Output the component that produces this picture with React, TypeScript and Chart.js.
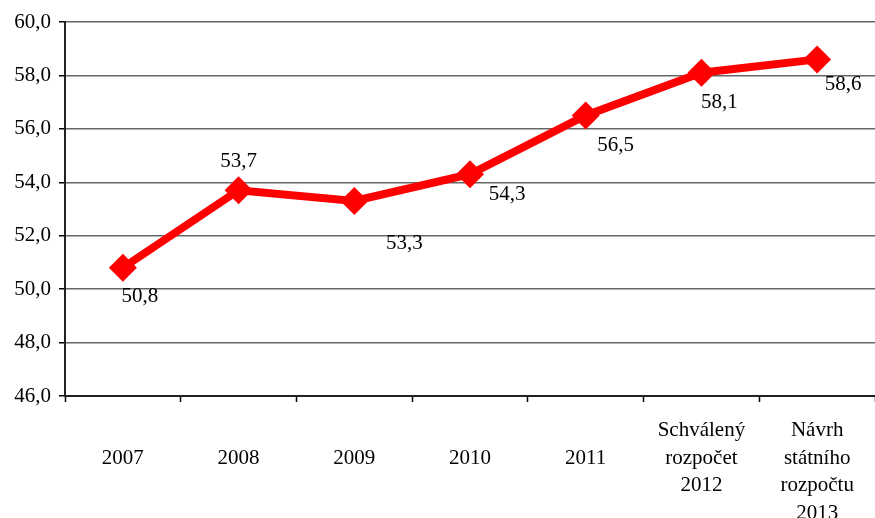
import React, { useEffect, useRef } from "react";
import { Chart, registerables } from "chart.js";

Chart.register(...registerables);

const categories: string[][] = [
  ["", "2007"],
  ["", "2008"],
  ["", "2009"],
  ["", "2010"],
  ["", "2011"],
  ["Schválený", "rozpočet", "2012"],
  ["Návrh", "státního", "rozpočtu", "2013"],
];
const values: number[] = [50.8, 53.7, 53.3, 54.3, 56.5, 58.1, 58.6];
const yMin = 46;
const yMax = 60;
const yStep = 2;

// label placement relative to each point (dx, dy in px)
const labelOffsets: [number, number][] = [
  [17, 29],
  [0, -29],
  [50, 42],
  [37, 20],
  [30, 30],
  [18, 30],
  [26, 25],
];

const fmt = (v: number) => v.toFixed(1).replace(".", ",");

const FONT = "'Liberation Serif', 'Times New Roman', serif";
const FS = 21;

const labelPlugin = {
  id: "valueLabels",
  afterDatasetsDraw(chart: any) {
    const ctx = chart.ctx;
    const meta = chart.getDatasetMeta(0);
    ctx.save();
    ctx.font = `${FS}px ${FONT}`;
    ctx.fillStyle = "#000";
    ctx.textAlign = "center";
    ctx.textBaseline = "middle";
    meta.data.forEach((pt: any, i: number) => {
      const [dx, dy] = labelOffsets[i];
      ctx.fillText(fmt(values[i]), pt.x + dx, pt.y + dy);
    });
    ctx.restore();
  },
};

export default function App() {
  const ref = useRef<HTMLCanvasElement>(null);
  useEffect(() => {
    document.body.style.margin = "0";
    const chart = new Chart(ref.current!, {
      type: "line",
      data: {
        labels: categories,
        datasets: [
          {
            data: values,
            borderColor: "#FF0000",
            backgroundColor: "#FF0000",
            borderWidth: 8,
            pointStyle: "rectRot",
            pointRadius: 14,
            pointBorderWidth: 0,
            pointBackgroundColor: "#FF0000",
            tension: 0,
            clip: false,
          },
        ],
      },
      options: {
        animation: false,
        responsive: false,
        maintainAspectRatio: false,
        layout: { autoPadding: false, padding: { top: 22, right: 0, left: 0, bottom: 0 } },
        plugins: { legend: { display: false }, tooltip: { enabled: false } },
        scales: {
          x: {
            offset: true,
            grid: {
              offset: true,
              drawOnChartArea: false,
              drawTicks: true,
              tickLength: 6,
              tickColor: "#000",
              tickWidth: 1.5,
            },
            border: { display: true, color: "#222", width: 2 },
            ticks: {
              color: "#000",
              font: { family: FONT, size: FS, lineHeight: 1.333 },
              padding: 14,
              maxRotation: 0,
              autoSkip: false,
            },
            afterFit: (s: any) => {
              s.height = 122;
            },
          },
          y: {
            min: yMin,
            max: yMax,
            ticks: {
              stepSize: yStep,
              color: "#000",
              font: { family: FONT, size: FS },
              padding: 8,
              callback: (v: any) => fmt(Number(v)),
            },
            grid: {
              color: "#666",
              lineWidth: 1.5,
              drawTicks: true,
              tickLength: 6,
              tickColor: "#000",
            },
            border: { display: true, color: "#222", width: 2 },
            afterFit: (s: any) => {
              s.width = 65;
            },
          },
        },
      },
      plugins: [labelPlugin],
    });
    return () => chart.destroy();
  }, []);
  return (
    <div style={{ position: "absolute", left: 0, top: 0, width: 875, height: 518 }}>
      <canvas ref={ref} width={875} height={518} style={{ width: 875, height: 518 }} />
    </div>
  );
}
